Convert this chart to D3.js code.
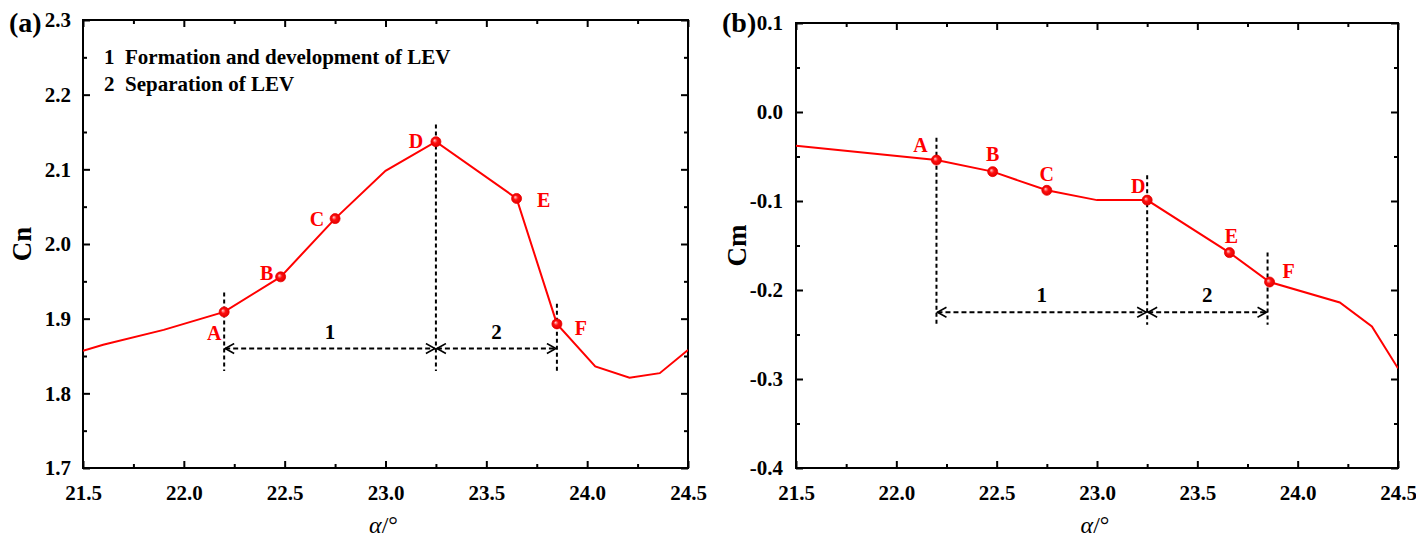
<!DOCTYPE html>
<html>
<head>
<meta charset="utf-8">
<script src="https://cdn.jsdelivr.net/npm/d3@7"></script>
<style>
  body { margin: 0; background: #fff; }
  svg text { font-family: "Liberation Serif", "Times New Roman", serif; font-weight: bold; }
</style>
</head>
<body>
<svg id="chart" width="1416" height="541"></svg>
<script>
// panel (a): normal force coefficient
var alphaA = [21.5, 21.6, 21.9, 22.2, 22.48, 22.75, 23.0, 23.25, 23.65, 23.85, 24.04, 24.21, 24.36, 24.5];
var cn = [1.857, 1.865, 1.885, 1.909, 1.956, 2.034, 2.098, 2.137, 2.061, 1.893, 1.836, 1.821, 1.827, 1.858];
var keyIdxA = [3, 4, 5, 7, 8, 9];

// panel (b): pitching moment coefficient
var alphaB = [21.5, 22.2, 22.48, 22.75, 23.0, 23.25, 23.66, 23.86, 24.21, 24.37, 24.5];
var cm = [-0.038, -0.054, -0.067, -0.088, -0.099, -0.099, -0.158, -0.191, -0.214, -0.241, -0.288];
var keyIdxB = [1, 2, 3, 5, 6, 7];

var keyNames = ['A', 'B', 'C', 'D', 'E', 'F'];
var xTicks = [21.5, 22.0, 22.5, 23.0, 23.5, 24.0, 24.5];
var cnTicks = [1.7, 1.8, 1.9, 2.0, 2.1, 2.2, 2.3];
var cmTicks = [-0.4, -0.3, -0.2, -0.1, 0.0, 0.1];
var stages = [22.2, 23.25, 23.85];
var stageNames = ['1', '2'];
var legendLines = ['1  Formation and development of LEV', '2  Separation of LEV'];

var svg = d3.select('#chart');
var defs = svg.append('defs');

var grad = defs.append('radialGradient').attr('id', 'ball')
    .attr('cx', '50%').attr('cy', '50%').attr('r', '50%')
    .attr('fx', '35%').attr('fy', '35%');
grad.append('stop').attr('offset', '0%').attr('stop-color', '#ffd0d0');
grad.append('stop').attr('offset', '45%').attr('stop-color', '#ff1010');
grad.append('stop').attr('offset', '100%').attr('stop-color', '#e00000');

function arrowMarker(id, d) {
    defs.append('marker').attr('id', id)
        .attr('viewBox', '-10 -6 20 12')
        .attr('markerWidth', 20).attr('markerHeight', 12)
        .attr('markerUnits', 'userSpaceOnUse')
        .attr('orient', 'auto')
        .append('path').attr('d', d)
        .attr('fill', 'none').attr('stroke', '#000').attr('stroke-width', 1.6);
}
arrowMarker('arrEnd', 'M-9,-5L0,0L-9,5');
arrowMarker('arrStart', 'M9,-5L0,0L9,5');

function fmt(d) {
    if (Math.abs(d) < 1e-9) d = 0;
    return d.toFixed(1);
}

function drawPanel(o) {
    var x = d3.scaleLinear().domain([21.5, 24.5]).range([o.left, o.right]);
    var y = d3.scaleLinear().domain(o.yDomain).range([o.bottom, o.top]);
    var g = svg.append('g');

    var minorX = d3.range(21.75, 24.5, 0.5);
    var minorY = o.yTicks.slice(0, -1).map(function(v) { return v + 0.05; });

    function axis(gen, scale, vals, size, fmtFn, tr) {
        var a = g.append('g').attr('transform', tr)
            .call(gen(scale).tickValues(vals).tickSize(-size).tickSizeOuter(0)
                .tickPadding(o.pad).tickFormat(fmtFn));
        a.select('.domain').remove();
        a.selectAll('line').attr('stroke', '#000').attr('stroke-width', 2);
        a.selectAll('text').attr('font-size', 21).attr('fill', '#000');
        return a;
    }
    var none = function() { return ''; };
    var xa = axis(d3.axisBottom, x, xTicks, 7, fmt, 'translate(0,' + o.bottom + ')');
    xa.selectAll('text').attr('dy', '1.05em');
    axis(d3.axisBottom, x, minorX, 4, none, 'translate(0,' + o.bottom + ')');
    axis(d3.axisTop, x, xTicks, 7, none, 'translate(0,' + o.top + ')');
    axis(d3.axisTop, x, minorX, 4, none, 'translate(0,' + o.top + ')');
    var ya = axis(d3.axisLeft, y, o.yTicks, 7, fmt, 'translate(' + o.left + ',0)');
    ya.selectAll('text').attr('dx', o.ydx);
    axis(d3.axisLeft, y, minorY, 4, none, 'translate(' + o.left + ',0)');
    axis(d3.axisRight, y, o.yTicks, 7, none, 'translate(' + o.right + ',0)');
    axis(d3.axisRight, y, minorY, 4, none, 'translate(' + o.right + ',0)');

    g.append('rect')
        .attr('x', o.left).attr('y', o.top)
        .attr('width', o.right - o.left).attr('height', o.bottom - o.top)
        .attr('fill', 'none').attr('stroke', '#000').attr('stroke-width', 2);

    // stage marks
    o.vLines.forEach(function(v, i) {
        g.append('line')
            .attr('x1', x(stages[i])).attr('x2', x(stages[i]))
            .attr('y1', y(v[0])).attr('y2', y(v[1]))
            .attr('stroke', '#000').attr('stroke-width', 2)
            .attr('stroke-dasharray', '4,3');
    });
    for (var i = 0; i < 2; i++) {
        g.append('line')
            .attr('x1', x(stages[i]) + 1).attr('x2', x(stages[i + 1]) - 1)
            .attr('y1', y(o.arrowY)).attr('y2', y(o.arrowY))
            .attr('stroke', '#000').attr('stroke-width', 2)
            .attr('stroke-dasharray', '5,3')
            .attr('marker-start', 'url(#arrStart)')
            .attr('marker-end', 'url(#arrEnd)');
        g.append('text')
            .attr('x', (x(stages[i]) + x(stages[i + 1])) / 2)
            .attr('y', y(o.arrowY) - o.numUp)
            .attr('text-anchor', 'middle')
            .attr('font-size', 21).attr('fill', '#000')
            .text(stageNames[i]);
    }

    // curve
    var clipId = 'clip' + o.name;
    defs.append('clipPath').attr('id', clipId).append('rect')
        .attr('x', o.left).attr('y', o.top)
        .attr('width', o.right - o.left).attr('height', o.bottom - o.top);
    var pts = o.xs.map(function(v, i) { return [v, o.ys[i]]; });
    g.append('path')
        .datum(pts)
        .attr('clip-path', 'url(#' + clipId + ')')
        .attr('d', d3.line().x(function(d) { return x(d[0]); }).y(function(d) { return y(d[1]); }))
        .attr('fill', 'none').attr('stroke', '#ff0000').attr('stroke-width', 2);

    o.keys.forEach(function(k, i) {
        var px = x(o.xs[k]), py = y(o.ys[k]);
        g.append('circle').attr('cx', px).attr('cy', py).attr('r', 5)
            .attr('fill', 'url(#ball)').attr('stroke', '#ee0000').attr('stroke-width', 0.8);
        g.append('text')
            .attr('x', px + o.labelOff[i][0]).attr('y', py + o.labelOff[i][1])
            .attr('text-anchor', 'middle').attr('dominant-baseline', 'central')
            .attr('font-size', 20).attr('fill', '#ff0000')
            .text(keyNames[i]);
    });

    // titles
    svg.append('text')
        .attr('transform', 'translate(' + o.yTitleX + ',' + ((o.top + o.bottom) / 2) + ') rotate(-90)')
        .attr('text-anchor', 'middle').attr('dominant-baseline', 'central')
        .attr('font-size', 27).attr('fill', '#000')
        .text(o.yTitle);
    var xt = svg.append('text')
        .attr('x', (o.left + o.right) / 2 - 2).attr('y', 533)
        .attr('text-anchor', 'middle')
        .attr('font-size', 24).attr('fill', '#000')
        .style('font-weight', 'normal');
    xt.append('tspan').attr('font-style', 'italic').text('α');
    xt.append('tspan').text('/°');
    svg.append('text')
        .attr('x', o.panelX).attr('y', 22)
        .attr('dominant-baseline', 'central')
        .attr('font-size', 28).attr('fill', '#000')
        .text(o.panel);
    return g;
}

var ga = drawPanel({
    name: 'a', panel: '(a)', panelX: 9, yTitle: 'Cn', yTitleX: 22,
    left: 83, right: 688, top: 20, bottom: 468,
    yDomain: [1.7, 2.3], yTicks: cnTicks, pad: 10, ydx: -2,
    xs: alphaA, ys: cn, keys: keyIdxA,
    labelOff: [[-10, 21], [-14, -4], [-18, 0], [-20, -1], [27, 2], [24, 4]],
    vLines: [[1.935, 1.83], [2.16, 1.83], [1.92, 1.83]],
    arrowY: 1.86, numUp: 10
});
ga.selectAll('.legend').data(legendLines).enter().append('text')
    .attr('x', 104).attr('y', function(d, i) { return 57 + i * 27; })
    .attr('dominant-baseline', 'central')
    .attr('font-size', 21).attr('fill', '#000')
    .attr('xml:space', 'preserve').style('white-space', 'pre')
    .text(function(d) { return d; });

drawPanel({
    name: 'b', panel: '(b)', panelX: 722, yTitle: 'Cm', yTitleX: 737,
    left: 796, right: 1398, top: 23, bottom: 468,
    yDomain: [-0.4, 0.1], yTicks: cmTicks, pad: 10, ydx: -3,
    xs: alphaB, ys: cm, keys: keyIdxB,
    labelOff: [[-16, -15], [0, -18], [0, -16], [-9, -14], [2, -17], [19, -11]],
    vLines: [[-0.029, -0.239], [-0.071, -0.239], [-0.158, -0.239]],
    arrowY: -0.225, numUp: 10
});
</script>
</body>
</html>
